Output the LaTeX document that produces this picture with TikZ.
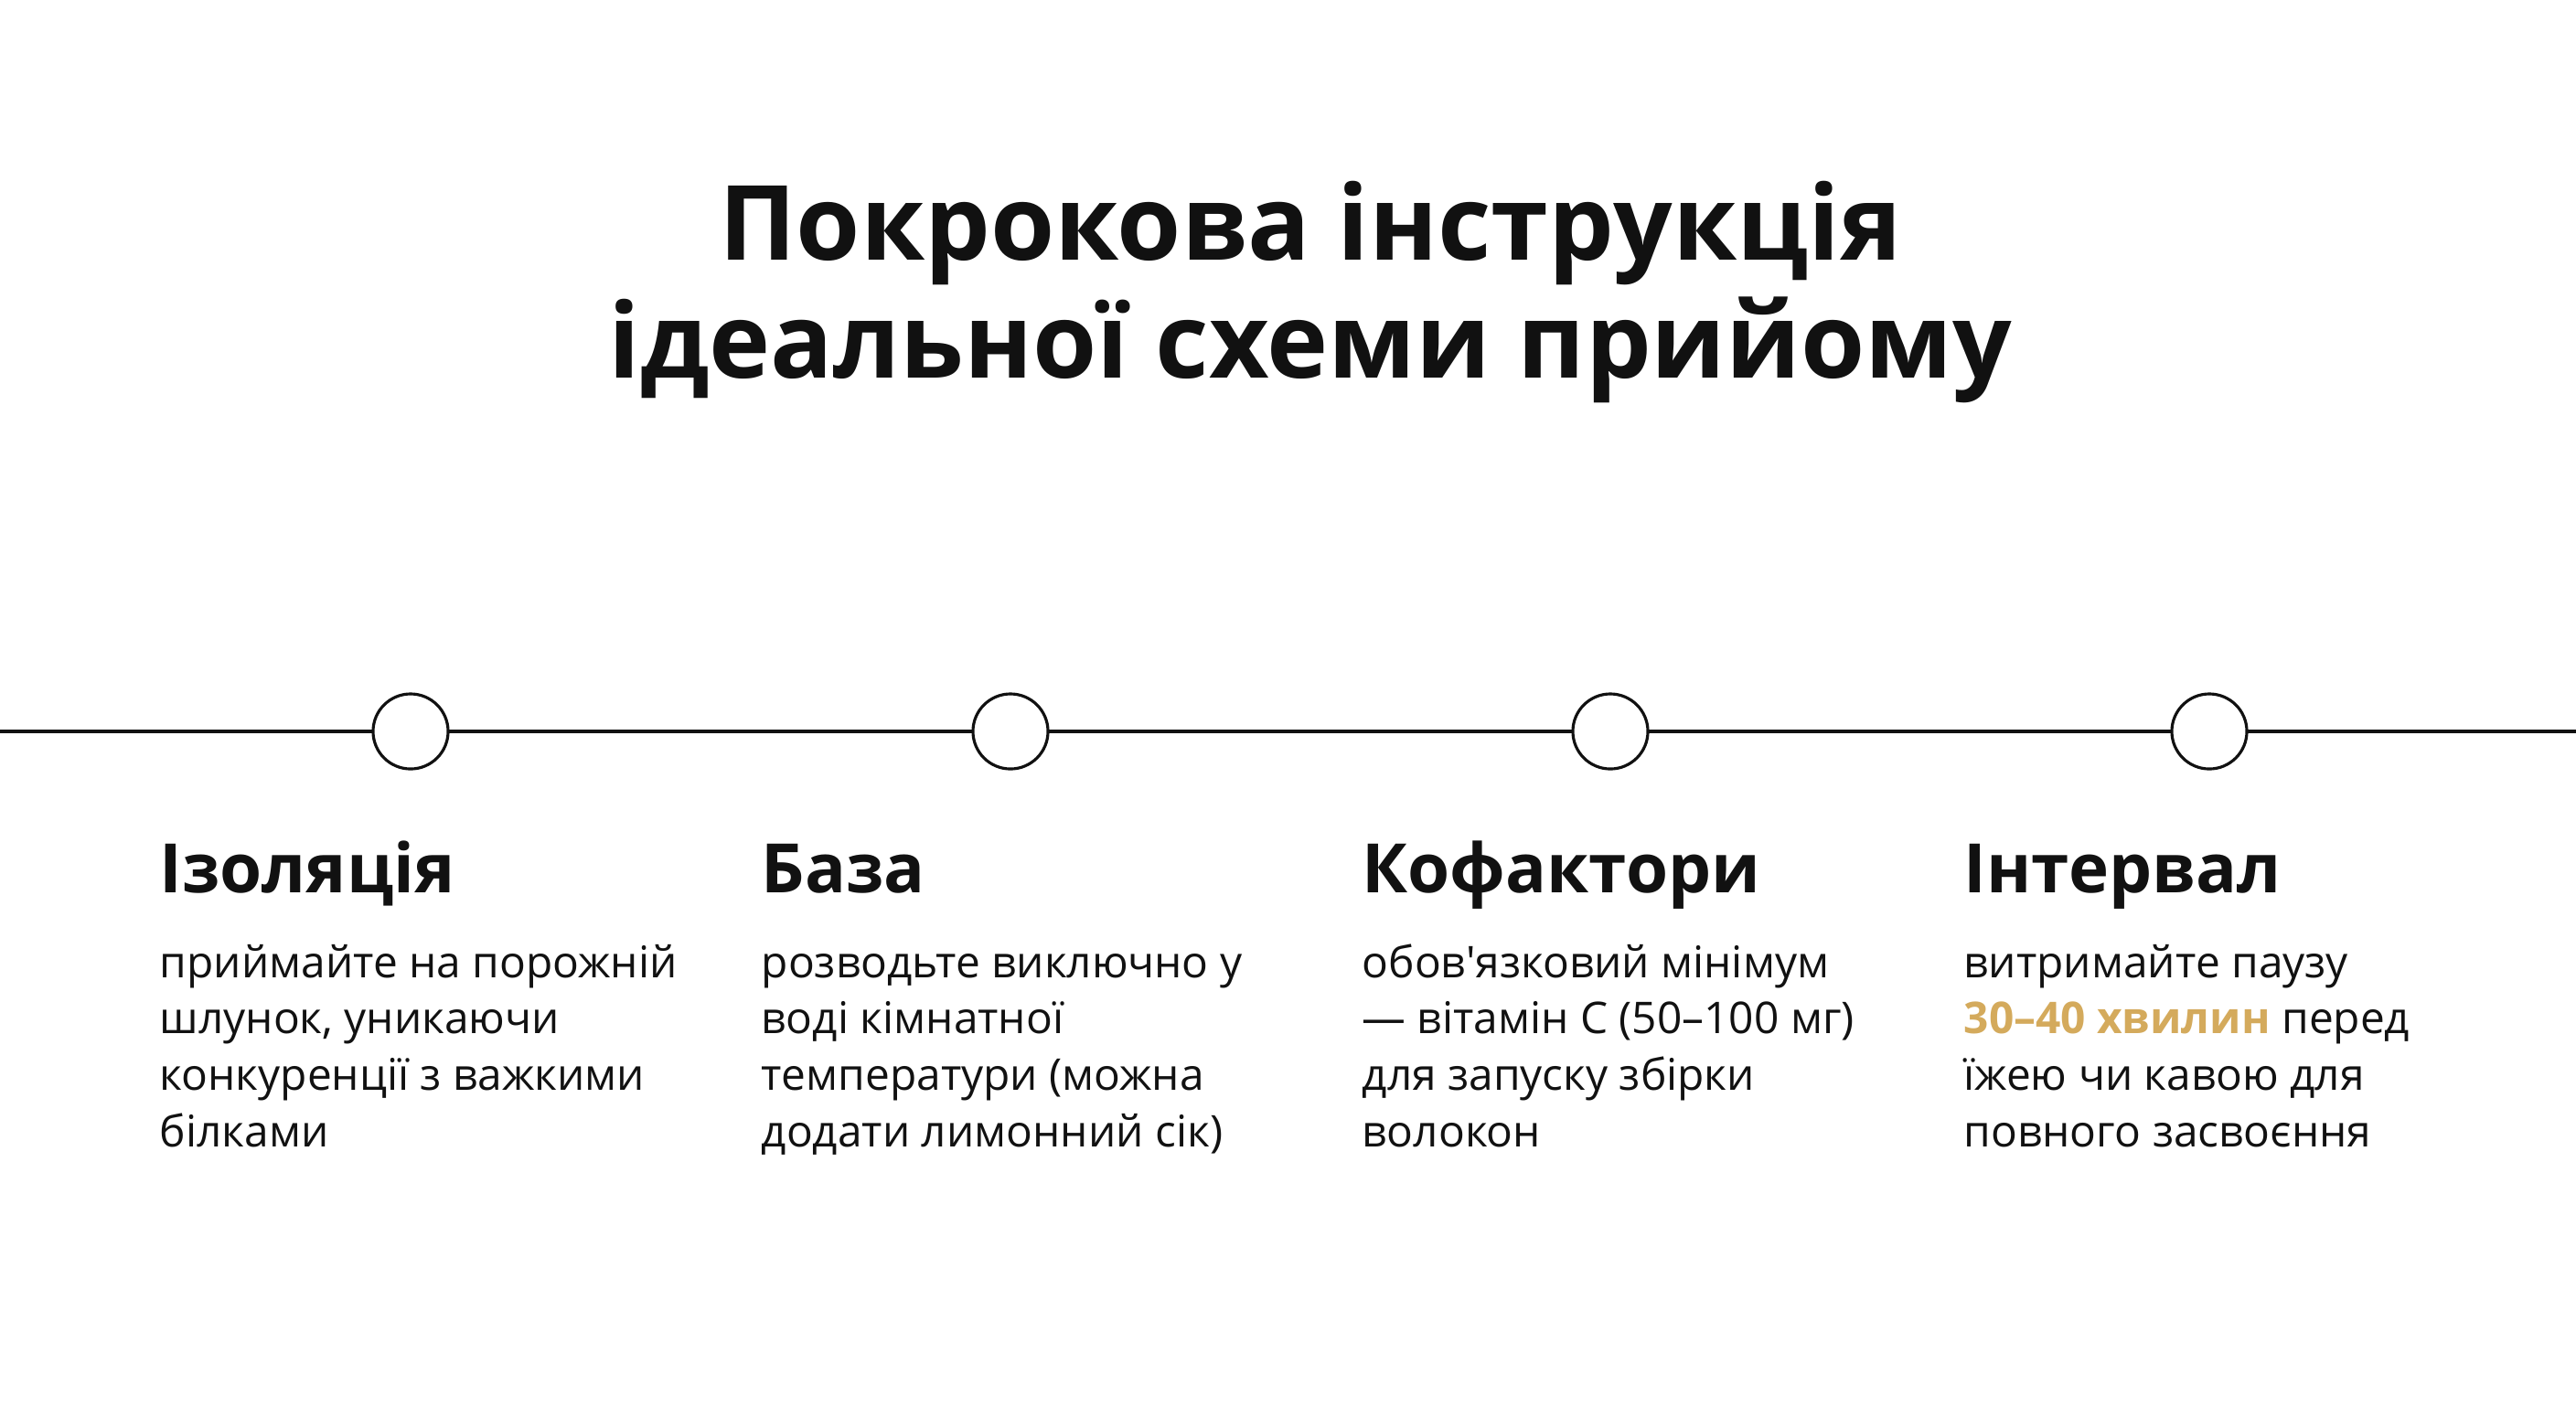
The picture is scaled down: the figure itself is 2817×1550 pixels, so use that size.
\documentclass[tikz,border=0pt]{standalone}
\usepackage{fontspec}
\setmainfont{Open Sans}
\newfontfamily\titlefont{Open Sans}
\newfontfamily\plainquote{Open Sans}[Ligatures=NoCommon]
\definecolor{gold}{HTML}{D4AA5C}
\definecolor{ink}{HTML}{111111}
\begin{document}
\begin{tikzpicture}[x=0.01cm,y=-0.01cm,
  titletext/.style={anchor=base,inner sep=0pt,text=ink,font={\titlefont\bfseries\fontsize{32.3}{37}\selectfont}},
  headtext/.style={anchor=base west,inner sep=0pt,text=ink,font={\bfseries\fontsize{21.2}{25}\selectfont}},
  bodytext/.style={anchor=base west,inner sep=0pt,text=ink,font={\fontsize{13.6}{17.6}\selectfont}},
  stepdot/.style={circle,draw=ink,line width=0.9pt,fill=white,minimum size=0.82cm,inner sep=0pt},
  axisline/.style={draw=ink,line width=0.9pt}]
\fill[white] (0,0) rectangle (2817,1550);
\useasboundingbox (0,0) rectangle (2817,1550);
\node[titletext] (t1) at (1433,284) {Покрокова інструкція};
\node[titletext] (t2) at (1433,413) {ідеальної схеми прийому};
\coordinate (lstart) at (0,800);
\coordinate (lend) at (2817,800);
\draw[axisline] (lstart) -- (lend);
\node[stepdot] (c1) at (449,800) {};
\node[stepdot] (c2) at (1105,800) {};
\node[stepdot] (c3) at (1761,800) {};
\node[stepdot] (c4) at (2416,800) {};
\node[headtext] (h1) at (174,976) {Ізоляція};
\node[headtext] (h2) at (832,976) {База};
\node[headtext] (h3) at (1489,976) {Кофактори};
\node[headtext] (h4) at (2147,976) {Інтервал};
\node[bodytext] (b1) at (174,1069) {\parbox[t]{8cm}{\raggedright приймайте на порожній\\ шлунок, уникаючи\\ конкуренції з важкими\\ білками}};
\node[bodytext] (b2) at (832,1069) {\parbox[t]{8cm}{\raggedright розводьте виключно у\\ воді кімнатної\\ температури (можна\\ додати лимонний сік)}};
\node[bodytext] (b3) at (1489,1069) {\parbox[t]{8cm}{\raggedright обов{\plainquote\char"0027}язковий мінімум\\ — вітамін С (50–100 мг)\\ для запуску збірки\\ волокон}};
\node[bodytext] (b4) at (2147,1069) {\parbox[t]{8cm}{\raggedright витримайте паузу\\ {\color{gold}\bfseries 30–40 хвилин} перед\\ їжею чи кавою для\\ повного засвоєння}};
\end{tikzpicture}
\end{document}
